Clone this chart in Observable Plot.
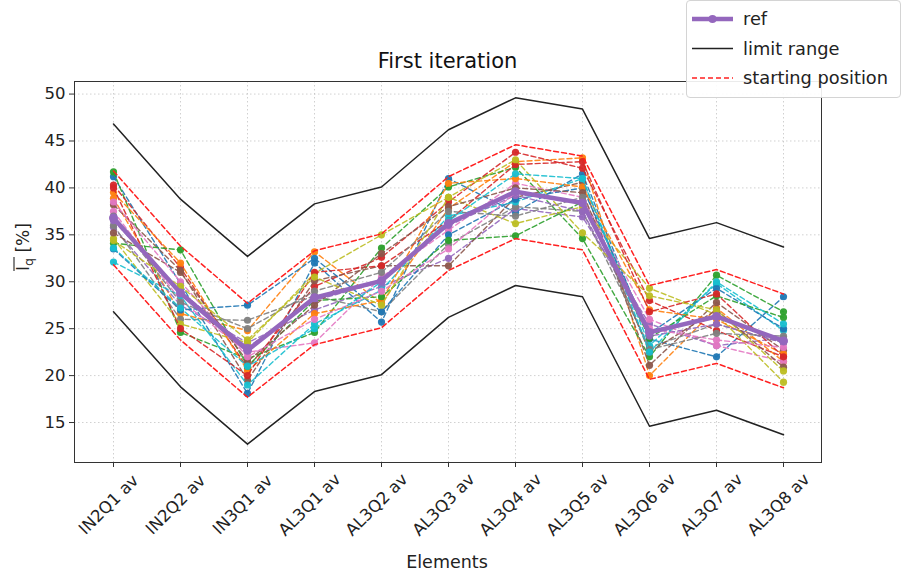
<!DOCTYPE html>
<html>
<head>
<meta charset="utf-8">
<script src="https://cdn.jsdelivr.net/npm/d3@7"></script>
<script src="https://cdn.jsdelivr.net/npm/@observablehq/plot@0.6"></script>
<style>
  html, body { margin: 0; padding: 0; background: #fff; }
  body { width: 902px; height: 577px; overflow: hidden; position: relative; font-family: "DejaVu Sans", sans-serif; }
  #chart { position: absolute; left: 0; top: 0; }
  .title { position: absolute; left: 0; width: 895px; top: 49px; text-align: center; font-size: 21px; color: #111; }
  .legend { position: absolute; left: 686px; top: 0px; width: 213px; height: 96px; background: rgba(255,255,255,0.9); border: 1px solid #d4d4d4; border-radius: 4px; }
  .ghost { position: absolute; left: -12px; top: 0px; width: 20px; height: 92px; border: 1px solid #dcdcdc; border-radius: 4px; }
</style>
</head>
<body>
<div class="ghost"></div>
<div id="chart"></div>
<div class="title">First iteration</div>
<div class="legend"><svg id="leg" width="213" height="96"></svg></div>
<script>
const elements = ["IN2Q1 av","IN2Q2 av","IN3Q1 av","AL3Q1 av","AL3Q2 av","AL3Q3 av","AL3Q4 av","AL3Q5 av","AL3Q6 av","AL3Q7 av","AL3Q8 av"];
const refValues   = [36.8, 28.8, 22.7, 28.3, 30.1, 36.2, 39.6, 38.4, 24.6, 26.3, 23.7];
const limitUpper  = [46.8, 38.8, 32.7, 38.3, 40.1, 46.2, 49.6, 48.4, 34.6, 36.3, 33.7];
const limitLower  = [26.8, 18.8, 12.7, 18.3, 20.1, 26.2, 29.6, 28.4, 14.6, 16.3, 13.7];
const startUpper  = [41.8, 33.8, 27.7, 33.3, 35.1, 41.2, 44.6, 43.4, 29.6, 31.3, 28.7];
const startLower  = [31.8, 23.8, 17.7, 23.3, 25.1, 31.2, 34.6, 33.4, 19.6, 21.3, 18.7];
const yTicks = [15, 20, 25, 30, 35, 40, 45, 50];
const seriesColors = ["#1f77b4","#ff7f0e","#2ca02c","#d62728","#9467bd","#8c564b","#e377c2","#7f7f7f","#bcbd22","#17becf"];
const s0  = [41.2, 29.8, 18.1, 32.0, 25.7, 41.0, 37.4, 41.5, 23.9, 22.0, 28.4];
const s1  = [38.9, 26.6, 24.8, 33.2, 27.7, 37.8, 42.8, 43.2, 20.0, 27.2, 21.5];
const s2  = [41.7, 24.6, 21.8, 24.6, 33.6, 40.1, 42.2, 34.6, 22.0, 30.7, 26.8];
const s3  = [40.3, 31.5, 20.8, 29.5, 32.6, 38.5, 43.8, 42.1, 28.0, 24.8, 22.0];
const s4  = [35.8, 27.5, 23.5, 27.0, 29.5, 32.5, 37.8, 36.9, 25.5, 23.2, 24.0];
const s5  = [38.2, 31.2, 19.5, 30.1, 31.7, 31.7, 39.0, 40.6, 21.1, 27.8, 22.7];
const s6  = [37.5, 28.0, 22.5, 23.5, 30.5, 35.5, 40.5, 39.0, 26.0, 23.2, 21.5];
const s7  = [36.0, 26.0, 25.9, 28.5, 26.8, 34.0, 38.0, 37.5, 23.0, 25.5, 23.5];
const s8  = [34.6, 25.5, 23.5, 30.9, 35.0, 39.0, 36.2, 38.0, 29.3, 26.5, 19.3];
const s9  = [32.1, 28.5, 19.0, 25.5, 29.1, 37.0, 38.5, 41.0, 23.2, 29.8, 24.8];
const s10 = [33.5, 27.0, 27.5, 32.5, 26.8, 35.0, 38.8, 40.0, 24.5, 29.3, 25.0];
const s11 = [39.5, 32.0, 20.5, 26.6, 28.0, 40.5, 41.0, 40.1, 27.0, 26.0, 22.3];
const s12 = [34.1, 33.4, 21.0, 28.0, 28.4, 34.4, 34.9, 38.5, 24.0, 28.5, 26.2];
const s13 = [40.0, 25.0, 20.0, 31.0, 31.7, 36.5, 42.5, 42.8, 26.8, 28.7, 22.0];
const s14 = [36.5, 29.0, 23.0, 28.0, 30.0, 36.0, 39.2, 37.5, 24.2, 25.5, 23.5];
const s15 = [35.2, 31.0, 21.5, 27.5, 33.0, 38.0, 40.0, 39.5, 22.5, 27.0, 20.9];
const s16 = [38.5, 30.0, 22.0, 26.0, 29.0, 33.5, 39.5, 38.5, 25.0, 23.8, 23.0];
const s17 = [37.0, 27.8, 25.0, 29.0, 31.0, 37.5, 37.0, 39.0, 22.8, 24.5, 24.2];
const s18 = [34.4, 29.5, 23.8, 30.5, 27.5, 39.0, 43.0, 35.2, 28.5, 27.0, 20.5];
const s19 = [33.6, 27.2, 21.0, 25.0, 30.0, 36.5, 41.5, 41.0, 22.5, 30.0, 25.5];
const seriesList = [s0,s1,s2,s3,s4,s5,s6,s7,s8,s9,s10,s11,s12,s13,s14,s15,s16,s17,s18,s19];

const toRows = arr => arr.map((v, i) => ({element: elements[i], value: v}));

const marks = [
  Plot.gridX(elements, {stroke: "#b0b0b0", strokeOpacity: 0.6, strokeDasharray: "1.5,2.5"}),
  Plot.gridY(yTicks, {stroke: "#b0b0b0", strokeOpacity: 0.6, strokeDasharray: "1.5,2.5"}),
  Plot.axisY(yTicks, {tickSize: 5, fontSize: 16.5, label: null, tickPadding: 4, stroke: "#333"}),
  Plot.axisX(elements, {tickSize: 5, stroke: "#333", text: null, label: null}),
  Plot.text(elements, {x: d => d, frameAnchor: "bottom", dy: 46, dx: -1, rotate: -45, textAnchor: "middle", fontSize: 16.5, fill: "#222"})
];
seriesList.forEach((s, k) => {
  const c = seriesColors[k % 10];
  const rows = toRows(s);
  marks.push(Plot.line(rows, {x: "element", y: "value", stroke: c, strokeWidth: 1.4, strokeDasharray: "5,3", strokeOpacity: 0.9}));
  marks.push(Plot.dot(rows, {x: "element", y: "value", fill: c, r: 3.6, fillOpacity: 0.95}));
});
[startUpper, startLower].forEach(s => marks.push(Plot.line(toRows(s), {x: "element", y: "value", stroke: "#ff2020", strokeWidth: 1.5, strokeDasharray: "5,3"})));
[limitUpper, limitLower].forEach(s => marks.push(Plot.line(toRows(s), {x: "element", y: "value", stroke: "#222", strokeWidth: 1.5})));
marks.push(Plot.line(toRows(refValues), {x: "element", y: "value", stroke: "#9467bd", strokeWidth: 4.5}));
marks.push(Plot.dot(toRows(refValues), {x: "element", y: "value", fill: "#9467bd", r: 4.5}));
marks.push(Plot.frame({stroke: "#333", strokeWidth: 1}));

const chart = Plot.plot({
  width: 902, height: 577,
  marginLeft: 74, marginRight: 81, marginTop: 81, marginBottom: 115,
  style: {fontFamily: "DejaVu Sans, sans-serif", fontSize: "16px", color: "#222", background: "#fff"},
  x: {type: "point", domain: elements, padding: 0.52, axis: null},
  y: {domain: [10.74, 51.34], axis: null},
  marks
});
document.getElementById("chart").appendChild(chart);

const svg = d3.select(chart);
// y label with overline
const g = svg.append("g").attr("transform", "translate(29,247) rotate(-90)");
const t = g.append("text").attr("text-anchor", "middle").attr("font-size", 17).attr("fill", "#222");
t.append("tspan").text("I");
t.append("tspan").attr("font-size", 12.5).attr("dy", 4).text("q");
t.append("tspan").attr("dy", -4).text(" [%]");
const tw = t.node().getComputedTextLength();
const iq = t.node().getSubStringLength(0, 2);
g.append("line").attr("x1", -tw/2).attr("x2", -tw/2 + iq + 1).attr("y1", -15).attr("y2", -15).attr("stroke", "#222").attr("stroke-width", 1.1);
// x label
svg.append("text").attr("x", 447).attr("y", 568).attr("text-anchor", "middle").attr("font-size", 17.5).attr("fill", "#222").text("Elements");

// legend
const leg = d3.select("#leg");
const items = [
  {label: "ref", color: "#9467bd", w: 4.5, dash: null, dot: true},
  {label: "limit range", color: "#222", w: 1.5, dash: null, dot: false},
  {label: "starting position", color: "#ff2020", w: 1.5, dash: "5,3", dot: false}
];
items.forEach((it, i) => {
  const y = 18 + i * 29.5;
  leg.append("line").attr("x1", 5).attr("x2", 46).attr("y1", y).attr("y2", y)
    .attr("stroke", it.color).attr("stroke-width", it.w).attr("stroke-dasharray", it.dash);
  if (it.dot) leg.append("circle").attr("cx", 25.5).attr("cy", y).attr("r", 4).attr("fill", it.color);
  leg.append("text").attr("x", 56).attr("y", y + 6).attr("font-size", 17.8).attr("fill", "#222")
    .attr("font-family", "DejaVu Sans, sans-serif").text(it.label);
});
</script>
</body>
</html>
